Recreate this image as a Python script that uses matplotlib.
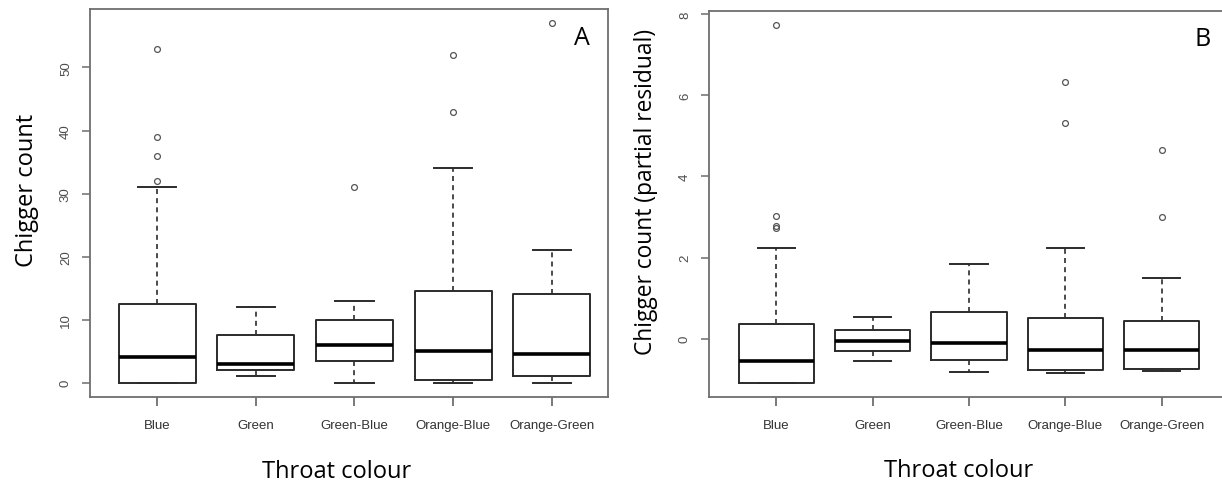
import matplotlib
matplotlib.use("Agg")
import matplotlib.pyplot as plt

OUTPUT_IMAGE = "out.png"

categories = ["Blue", "Green", "Green-Blue", "Orange-Blue", "Orange-Green"]

# Panel A: raw chigger counts
a_low = [0, 1, 0, 0, 0]
a_q1 = [0, 2, 3.4, 0.4, 1]
a_med = [4, 3, 6, 5, 4.5]
a_q3 = [12.5, 7.5, 10, 14.5, 14]
a_high = [31, 12, 13, 34, 21]
a_out = [[32, 36, 39, 53], [], [31], [43, 52], [57]]
a_ticks = [0, 10, 20, 30, 40, 50]

# Panel B: partial residuals
b_low = [-1.09, -0.55, -0.83, -0.85, -0.80]
b_q1 = [-1.09, -0.31, -0.53, -0.78, -0.74]
b_med = [-0.56, -0.07, -0.12, -0.27, -0.29]
b_q3 = [0.37, 0.22, 0.65, 0.50, 0.43]
b_high = [2.23, 0.53, 1.83, 2.23, 1.49]
b_out = [[2.72, 2.78, 3.03, 7.73], [], [], [5.33, 6.33], [2.99, 4.64]]
b_ticks = [0, 2, 4, 6, 8]

LABEL_FONT = ["Open Sans", "DejaVu Sans"]
TICK_FONT = ["Liberation Sans", "DejaVu Sans"]
FRAME = "#6e6e6e"
LINE = "#2b2b2b"


def make_stats(low, q1, med, q3, high, out):
    stats = []
    for i in range(len(med)):
        stats.append({
            "whislo": low[i], "q1": q1[i], "med": med[i],
            "q3": q3[i], "whishi": high[i], "fliers": out[i],
        })
    return stats


def draw_panel(ax, stats, ticks, ylim, xlim, ylabel, ysize, ylab_xy,
               xlab_xy, letter):
    pos = list(range(1, len(categories) + 1))
    ax.bxp(
        stats, positions=pos, widths=0.78, capwidths=0.39,
        boxprops=dict(color=LINE, linewidth=1.4),
        whiskerprops=dict(color=LINE, linewidth=1.2, linestyle=(0, (3, 2.5))),
        capprops=dict(color=LINE, linewidth=1.4),
        medianprops=dict(color="black", linewidth=2.6, solid_capstyle="butt"),
        flierprops=dict(marker="o", markerfacecolor="none",
                        markeredgecolor="#555555", markersize=4.2,
                        markeredgewidth=0.9),
    )
    ax.set_xlim(*xlim)
    ax.set_ylim(*ylim)
    ax.set_xticks(pos)
    ax.set_xticklabels(categories, fontfamily=TICK_FONT, fontsize=9.5,
                       color="#333333")
    ax.set_yticks(ticks)
    ax.set_yticklabels([str(t) for t in ticks], fontfamily=TICK_FONT,
                       fontsize=9.5, color="#4d4d4d", rotation=90,
                       va="center")
    ax.tick_params(axis="x", length=6.5, width=1.3, color=FRAME, pad=9)
    ax.tick_params(axis="y", length=6, width=1.1, color=FRAME, pad=7)
    for s in ax.spines.values():
        s.set_color(FRAME)
        s.set_linewidth(1.3)
    ax.set_ylabel(ylabel, fontfamily=LABEL_FONT, fontsize=ysize, va="center")
    ax.yaxis.set_label_coords(*ylab_xy)
    ax.set_xlabel("Throat colour", fontfamily=LABEL_FONT, fontsize=17,
                  va="center")
    ax.xaxis.set_label_coords(*xlab_xy)
    ax.text(0.965, 0.96, letter, transform=ax.transAxes, ha="right",
            va="top", fontfamily=LABEL_FONT, fontsize=18)


fig = plt.figure(figsize=(12.22, 4.85), dpi=100)

ax_a = fig.add_axes([90 / 1222, 1 - 398 / 485, 518 / 1222, 388 / 485])
draw_panel(ax_a, make_stats(a_low, a_q1, a_med, a_q3, a_high, a_out),
           a_ticks, (-2.28, 59.28), (0.32, 5.57), "Chigger count", 17,
           (-0.122, 0.535), (0.477, -0.19), "A")

ax_b = fig.add_axes([709 / 1222, 1 - 398 / 485, 520 / 1222, 386 / 485])
draw_panel(ax_b, make_stats(b_low, b_q1, b_med, b_q3, b_high, b_out),
           b_ticks, (-1.44, 8.08), (0.3, 5.7),
           "Chigger count (partial residual)", 16.4,
           (-0.121, 0.535), (0.481, -0.19), "B")

plt.savefig(OUTPUT_IMAGE, dpi=100)
plt.close()
